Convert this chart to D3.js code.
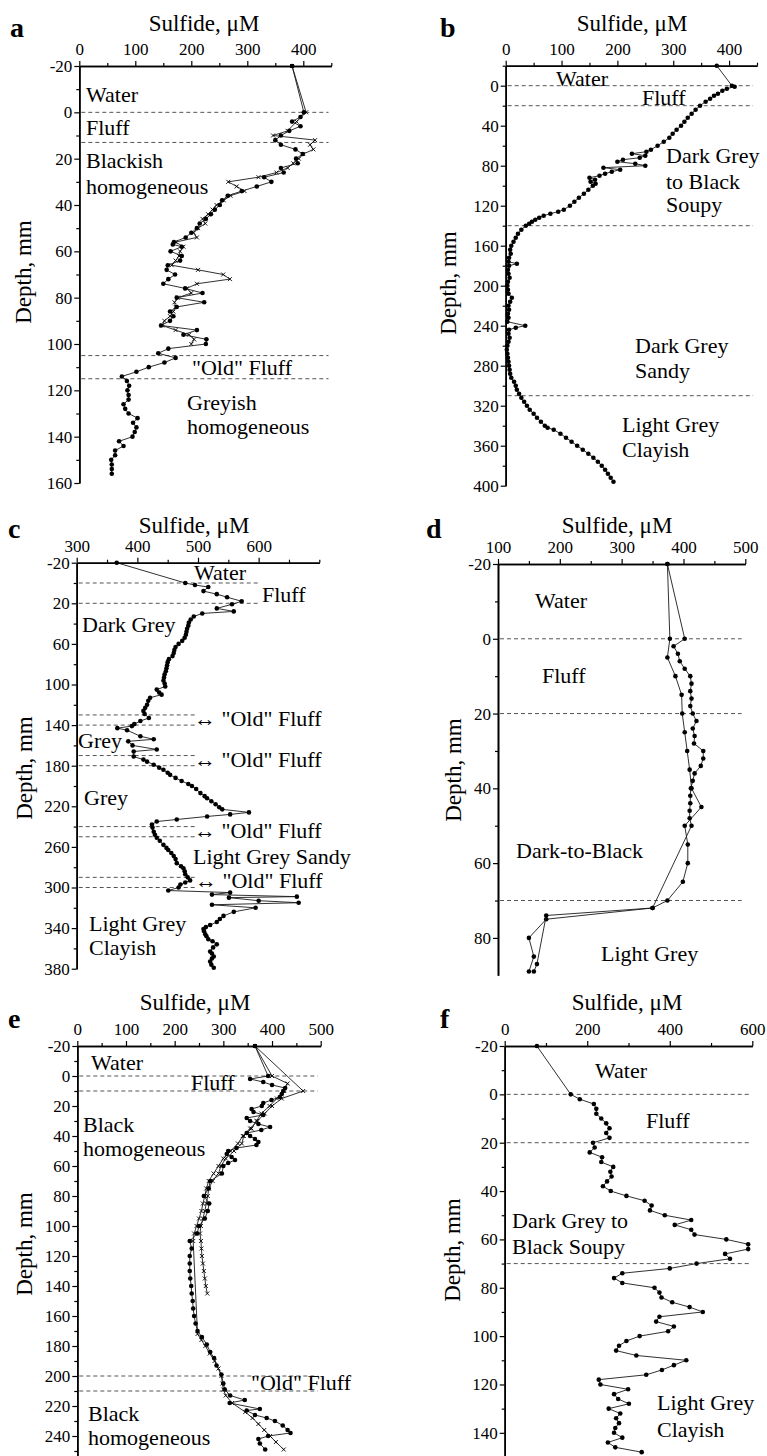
<!DOCTYPE html>
<html>
<head>
<meta charset="utf-8">
<script src="https://cdn.jsdelivr.net/npm/d3@7"></script>
<style>
  body { margin: 0; background: #fff; }
  svg text { font-family: "Liberation Serif", "Times New Roman", serif; fill: #000; }
</style>
</head>
<body>
<svg id="chart" width="767" height="1456"></svg>
<script>
// ---- data: [depth mm, sulfide uM] ----
var aDots = [[-20,380],[0,401],[2,395],[4,380],[6,395],[8,375],[10,360],[12,350],[14,360],[16,386],[18,399],[20,387],[22,390],[24,360],[26,365],[28,330],[30,343],[32,317],[34,290],[36,265],[38,255],[40,251],[42,242],[44,235],[46,226],[48,215],[50,210],[52,200],[54,190],[56,169],[57,167],[58,183],[60,163],[62,183],[64,180],[66,158],[68,156],[70,171],[72,159],[74,150],[76,189],[78,220],[80,174],[82,223],[84,174],[86,162],[88,168],[90,162],[92,146],[94,210],[96,186],[98,227],[100,226],[102,159],[104,141],[106,172],[108,152],[110,124],[112,102],[114,76],[116,85],[118,89],[120,86],[122,88],[124,88],[126,79],[128,82],[130,88],[132,104],[134,96],[136,102],[138,99],[140,95],[142,71],[144,79],[146,64],[148,64],[150,57],[152,58],[154,58],[156,58]];
var aCross = [[-20,380],[0,405],[4,388],[8,372],[10,346],[12,421],[14,412],[16,418],[18,400],[20,392],[22,382],[24,372],[26,352],[28,320],[30,266],[32,281],[34,295],[36,270],[38,258],[40,245],[42,238],[44,230],[46,220],[48,225],[50,212],[52,204],[54,210],[56,172],[58,186],[60,180],[62,178],[64,172],[66,165],[68,212],[70,257],[72,269],[74,210],[76,192],[78,200],[80,176],[82,170],[84,172],[86,168],[88,162],[90,152],[92,148],[94,172],[96,196],[98,205],[100,200]];

var bDots = [[-20,378],[0,405],[1,410],[3,396],[5,388],[8,380],[10,373],[13,366],[16,358],[20,348],[24,340],[28,333],[32,326],[36,320],[40,314],[44,306],[48,299],[52,293],[56,283],[60,272],[64,260],[66,252],[68,226],[70,250],[72,240],[74,210],[76,200],[78,232],[80,250],[82,175],[84,205],[86,190],[88,178],[90,168],[92,150],[94,160],[96,152],[98,161],[100,156],[104,148],[108,140],[112,131],[116,123],[120,115],[124,104],[126,94],[128,80],[130,68],[132,60],[134,53],[136,47],[138,42],[140,36],[144,28],[148,22],[152,18],[156,14],[160,10],[164,8],[168,9],[172,6],[176,5],[178,20],[180,6],[184,4],[188,5],[192,7],[196,4],[200,3],[204,4],[208,5],[212,11],[216,8],[220,5],[224,6],[228,4],[232,5],[236,3],[240,35],[242,18],[244,6],[248,5],[252,7],[256,5],[260,3],[264,2],[268,3],[272,4],[276,5],[280,6],[284,7],[288,8],[292,10],[296,15],[300,18],[304,20],[308,24],[312,28],[316,33],[320,38],[324,43],[328,50],[332,56],[336,63],[340,70],[342,75],[344,86],[348,98],[352,108],[356,118],[360,128],[364,138],[368,148],[372,157],[376,165],[380,172],[384,178],[388,183],[392,188],[396,193]];

var cDots = [[-20,366],[0,479],[2,495],[4,517],[8,509],[11,531],[14,548],[18,572],[21,556],[25,531],[28,559],[30,507],[33,493],[36,488],[39,485],[42,484],[45,482],[48,481],[51,480],[54,478],[57,474],[60,468],[63,463],[66,461],[69,460],[72,458],[75,452],[78,450],[81,449],[84,448],[87,447],[90,445],[93,444],[96,443],[99,445],[102,446],[105,432],[108,436],[110,440],[113,421],[116,418],[120,416],[123,413],[126,410],[129,412],[133,419],[136,405],[139,395],[141,391],[143,367],[145,383],[151,405],[154,427],[156,385],[160,392],[164,432],[166,394],[171,394],[174,410],[176,416],[179,427],[182,436],[184,443],[187,450],[189,454],[192,463],[195,473],[198,484],[200,490],[203,497],[207,504],[210,511],[212,515],[215,522],[218,529],[221,535],[223,540],[226,584],[228,553],[230,515],[233,465],[235,432],[238,424],[241,425],[245,427],[248,429],[251,432],[254,437],[258,443],[261,448],[263,451],[266,456],[269,460],[272,463],[276,465],[279,472],[281,476],[284,478],[287,479],[290,483],[293,487],[295,479],[297,471],[300,468],[303,451],[305,553],[307,523],[309,663],[310,551],[313,600],[315,666],[317,523],[320,595],[324,559],[328,542],[331,536],[334,531],[337,520],[339,513],[341,509],[343,510],[346,512],[348,514],[351,517],[353,524],[356,531],[359,525],[363,520],[365,523],[368,526],[370,523],[373,520],[376,522],[379,526]];

var dSeries1 = [[-20,374],[0,378],[5,374],[10,387],[15,397],[20,398],[25,402],[30,406],[35,410],[40,413],[45,429],[50,402],[55,407],[60,407],[65,399],[70,374],[72,350],[75,178],[80,150],[85,158],[89,150]];
var dSeries2 = [[-20,374],[0,402],[2,384],[4,391],[6,394],[8,402],[10,411],[12,413],[14,411],[16,413],[18,411],[20,415],[22,421],[24,415],[26,418],[28,417],[30,432],[32,432],[34,428],[36,418],[38,415],[40,412],[42,411],[44,411],[46,410],[48,410],[50,413],[72,350],[74,178],[87,163],[89,158]];

var eDots = [[-20,365],[0,392],[2,355],[4,382],[6,400],[8,427],[10,423],[12,420],[14,416],[16,399],[18,382],[20,379],[22,358],[24,362],[26,382],[28,348],[30,355],[32,372],[34,396],[36,378],[38,348],[40,355],[42,365],[44,372],[46,368],[48,327],[50,310],[52,307],[54,317],[56,324],[58,310],[60,300],[65,297],[70,273],[75,270],[80,260],[85,271],[90,268],[95,262],[100,250],[105,246],[110,231],[115,235],[120,231],[125,231],[130,231],[135,232],[140,234],[145,235],[150,237],[155,238],[160,240],[165,243],[170,247],[174,256],[179,266],[184,273],[188,281],[193,286],[199,296],[205,300],[209,303],[213,314],[216,344],[218,313],[222,375],[223,348],[226,365],[228,389],[230,406],[233,422],[236,432],[238,438],[240,392],[242,372],[245,375],[249,386]];
var eCross1 = [[-20,365],[0,400],[5,432],[10,425],[15,410],[20,395],[25,378],[30,368],[35,358],[40,342],[45,338],[50,322],[55,305],[60,295],[65,290],[70,278],[75,270],[80,268],[85,265],[90,262],[95,258],[100,254],[105,252],[110,254],[115,255],[120,256],[125,258],[130,260],[135,262],[140,264],[145,267]];
var eCross2 = [[-20,365],[10,464],[15,420],[20,400],[25,385],[30,370],[35,355],[40,340],[45,330],[50,315],[55,300],[60,290],[65,280],[70,270],[75,265],[80,262],[85,258],[90,255],[95,250],[100,245],[105,240],[110,238],[172,247],[176,255],[180,263],[185,272],[190,282],[195,290],[200,296],[205,298],[209,300],[213,305],[218,318],[224,345],[228,360],[232,372],[236,384],[240,396],[244,408],[249,424]];

var fDots = [[-20,78],[0,160],[2,182],[4,216],[6,222],[8,222],[10,234],[12,246],[14,254],[16,246],[18,254],[20,214],[22,218],[24,206],[26,236],[28,234],[30,263],[32,256],[34,259],[36,248],[38,238],[40,257],[42,295],[44,339],[46,356],[48,352],[50,388],[52,452],[54,412],[56,452],[58,460],[60,537],[62,590],[64,590],[66,534],[68,546],[70,465],[72,400],[74,285],[76,265],[78,285],[80,363],[82,375],[84,380],[86,406],[88,448],[90,480],[92,375],[94,367],[96,410],[98,396],[100,327],[102,295],[104,277],[106,270],[108,319],[110,440],[112,410],[114,381],[116,343],[118,228],[120,232],[122,299],[124,265],[126,275],[128,301],[130,252],[132,280],[134,270],[136,277],[138,268],[140,265],[142,285],[144,250],[146,268],[148,332]];

// layer boundaries: [depth, x value where the dashed line stops]
var aLayers = [[0,445],[13,445],[105,445],[115,445]];
var bLayers = [[0,443],[20,443],[140,443],[310,443]];
var cLayers = [[0,600],[20,600],[130,495],[140,495],[170,495],[180,495],[240,495],[250,495],[290,495],[300,495]];
var dLayers = [[0,494],[20,494],[70,494]];
var eLayers = [[0,494],[10,494],[200,494],[210,494]];
var fLayers = [[0,592],[20,592],[70,592]];

var OLD = "\u2194 \"Old\" Fluff";

var panels = [
  { letter: "a", lx: 10, ly: 37, left: 79.3, right: 331.3, top: 66, bottom: 483,
    xDomain: [0, 450], yDomain: [-20, 160],
    xMajor: [0,100,200,300,400], xMinor: [50,150,250,350,450],
    yMajor: d3.range(-20, 161, 20), yMinor: d3.range(-10, 160, 20),
    titleX: 204, titleY: 31, depthX: 31, depthY: 272,
    layers: aLayers,
    series: [{ data: aCross, mark: "cross" }, { data: aDots, mark: "dot" }],
    labels: [["Water",86,102],["Fluff",86,135],["Blackish",86,168],["homogeneous",86,194],
             ["\"Old\" Fluff",192,375],["Greyish",187,410],["homogeneous",187,434]] },
  { letter: "b", lx: 440, ly: 37, left: 505.7, right: 757, top: 65.7, bottom: 485.7,
    xDomain: [0, 450], yDomain: [-20, 400],
    xMajor: [0,100,200,300,400], xMinor: [50,150,250,350,450],
    yMajor: d3.range(0, 401, 40), yMinor: d3.range(-20, 400, 40),
    titleX: 632, titleY: 31, depthX: 456, depthY: 283,
    layers: bLayers,
    series: [{ data: bDots, mark: "dot" }],
    labels: [["Water",556,86],["Fluff",642,105],["Dark Grey",666,163],["to Black",666,189],["Soupy",666,212],
             ["Dark Grey",635,353],["Sandy",635,378],["Light Grey",622,432],["Clayish",622,457]] },
  { letter: "c", lx: 8, ly: 538, left: 76.7, right: 319.3, top: 562.7, bottom: 968.7,
    xDomain: [300, 700], yDomain: [-20, 380],
    xMajor: [300,400,500,600], xMinor: [350,450,550,650,700],
    yMajor: d3.range(-20, 381, 40), yMinor: d3.range(0, 361, 40),
    titleX: 194, titleY: 533, depthX: 31.5, depthY: 768,
    layers: cLayers,
    series: [{ data: cDots, mark: "dot" }],
    labels: [["Water",194,580],["Fluff",262,602],["Dark Grey",82,632],[OLD,194,726],["Grey",78,748],
             [OLD,194,767],["Grey",84,805],[OLD,194,838],["Light Grey Sandy",193,864],[OLD,195,888],
             ["Light Grey",89,931],["Clayish",89,955]] },
  { letter: "d", lx: 426, ly: 538, left: 498, right: 745.3, top: 564, bottom: 975.3,
    xDomain: [100, 500], yDomain: [-20, 90],
    xMajor: [100,200,300,400,500], xMinor: [150,250,350,450],
    yMajor: d3.range(-20, 81, 20), yMinor: d3.range(-10, 90, 20),
    titleX: 617, titleY: 533, depthX: 461, depthY: 770,
    layers: dLayers,
    series: [{ data: dSeries1, mark: "dot" }, { data: dSeries2, mark: "dot" }],
    labels: [["Water",535,608],["Fluff",542,683],["Dark-to-Black",516,858],["Light Grey",601,961]] },
  { letter: "e", lx: 8, ly: 1028, left: 77.3, right: 320.7, top: 1046, bottom: 1455.5,
    xDomain: [0, 500], yDomain: [-20, 253],
    xMajor: [0,100,200,300,400,500], xMinor: [50,150,250,350,450],
    yMajor: d3.range(-20, 241, 20), yMinor: d3.range(-10, 251, 20),
    titleX: 195, titleY: 1010, depthX: 31.5, depthY: 1244,
    layers: eLayers,
    series: [{ data: eCross2, mark: "cross" }, { data: eCross1, mark: "cross" }, { data: eDots, mark: "dot" }],
    labels: [["Water",91,1070],["Fluff",191,1090],["Black",83,1132],["homogeneous",83,1156],
             ["\"Old\" Fluff",251,1390],["Black",88,1421],["homogeneous",88,1445]] },
  { letter: "f", lx: 440, ly: 1028, left: 504.7, right: 752.3, top: 1046, bottom: 1457,
    xDomain: [0, 600], yDomain: [-20, 150],
    xMajor: [0,200,400,600], xMinor: [100,300,500],
    yMajor: d3.range(-20, 141, 20), yMinor: d3.range(-10, 141, 20),
    titleX: 627, titleY: 1010, depthX: 460, depthY: 1250,
    layers: fLayers,
    series: [{ data: fDots, mark: "dot" }],
    labels: [["Water",595,1078],["Fluff",646,1128],["Dark Grey to",512,1228],["Black Soupy",512,1254],
             ["Light Grey",657,1410],["Clayish",657,1437]] }
];

var svg = d3.select("#chart");
svg.append("rect").attr("width", 767).attr("height", 1456).attr("fill", "#fff");

function plain(d) { return String(d); }

function styleAxis(g, size) {
  g.attr("font-family", null).attr("font-size", size);
  g.selectAll("path.domain").attr("stroke", "#000").attr("stroke-width", 1.6);
  g.selectAll(".tick line").attr("stroke", "#000").attr("stroke-width", 1.2);
  g.selectAll(".tick text").attr("fill", "#000");
}

function drawPanel(p) {
  var x = d3.scaleLinear().domain(p.xDomain).range([p.left, p.right]);
  var y = d3.scaleLinear().domain(p.yDomain).range([p.top, p.bottom]);
  var g = svg.append("g").attr("class", "panel");

  // layer boundaries
  g.selectAll(".layer")
    .data(p.layers)
    .enter().append("line")
    .attr("class", "layer")
    .attr("x1", x(p.xDomain[0]) + 2)
    .attr("x2", function(d) { return x(d[1]); })
    .attr("y1", function(d) { return y(d[0]); })
    .attr("y2", function(d) { return y(d[0]); })
    .attr("stroke", "#555")
    .attr("stroke-width", 1)
    .attr("stroke-dasharray", "4,3");

  // profiles
  var line = d3.line()
    .x(function(d) { return x(d[1]); })
    .y(function(d) { return y(d[0]); });

  p.series.forEach(function(s) {
    g.append("path")
      .datum(s.data)
      .attr("d", line)
      .attr("fill", "none")
      .attr("stroke", "#1a1a1a")
      .attr("stroke-width", 0.9);

    if (s.mark == "dot") {
      g.append("g").selectAll("circle")
        .data(s.data)
        .enter().append("circle")
        .attr("cx", function(d) { return x(d[1]); })
        .attr("cy", function(d) { return y(d[0]); })
        .attr("r", 2.3)
        .attr("fill", "#000");
    } else {
      g.append("g").selectAll("path")
        .data(s.data)
        .enter().append("path")
        .attr("d", function(d) {
          var cx = x(d[1]), cy = y(d[0]), h = 2;
          return "M" + (cx - h) + "," + (cy - h) + "L" + (cx + h) + "," + (cy + h) +
                 "M" + (cx - h) + "," + (cy + h) + "L" + (cx + h) + "," + (cy - h);
        })
        .attr("stroke", "#000")
        .attr("stroke-width", 0.9);
    }
  });

  // axes
  var xMinorAxis = d3.axisTop(x).tickValues(p.xMinor).tickSize(3).tickSizeOuter(0).tickFormat("");
  var xAxis = d3.axisTop(x).tickValues(p.xMajor).tickSize(5).tickPadding(6).tickSizeOuter(0).tickFormat(plain);
  var yMinorAxis = d3.axisLeft(y).tickValues(p.yMinor).tickSize(3).tickSizeOuter(0).tickFormat("");
  var yAxis = d3.axisLeft(y).tickValues(p.yMajor).tickSize(5).tickPadding(2).tickSizeOuter(0).tickFormat(plain);

  g.append("g").attr("transform", "translate(0," + p.top + ")").call(xMinorAxis).call(styleAxis, 17);
  g.append("g").attr("transform", "translate(0," + p.top + ")").call(xAxis).call(styleAxis, 17);
  g.append("g").attr("transform", "translate(" + p.left + ",0)").call(yMinorAxis).call(styleAxis, 17);
  g.append("g").attr("transform", "translate(" + p.left + ",0)").call(yAxis).call(styleAxis, 17);

  // texts
  g.append("text")
    .attr("x", p.titleX).attr("y", p.titleY)
    .attr("text-anchor", "middle")
    .attr("font-size", 23)
    .text("Sulfide, \u03bcM");

  g.append("text")
    .attr("transform", "translate(" + p.depthX + "," + p.depthY + ") rotate(-90)")
    .attr("text-anchor", "middle")
    .attr("font-size", 23)
    .text("Depth, mm");

  g.append("text")
    .attr("x", p.lx).attr("y", p.ly)
    .attr("font-size", 28)
    .attr("font-weight", "bold")
    .text(p.letter);

  g.selectAll(".zone")
    .data(p.labels)
    .enter().append("text")
    .attr("class", "zone")
    .attr("x", function(d) { return d[1]; })
    .attr("y", function(d) { return d[2]; })
    .attr("font-size", 22)
    .text(function(d) { return d[0]; });
}

panels.forEach(drawPanel);
</script>
</body>
</html>
